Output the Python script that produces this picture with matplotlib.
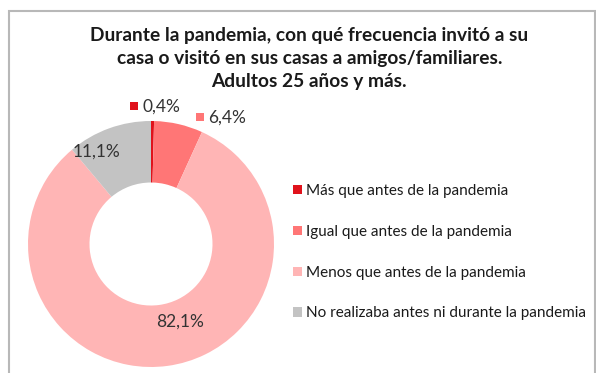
import matplotlib
matplotlib.use("Agg")
import matplotlib.pyplot as plt
from matplotlib.patches import Rectangle, Patch

plt.rcParams['font.family'] = ['Lato', 'DejaVu Sans']

categories = [
    "Más que antes de la pandemia",
    "Igual que antes de la pandemia",
    "Menos que antes de la pandemia",
    "No realizaba antes ni durante la pandemia",
]
values = [0.4, 6.4, 82.1, 11.1]
value_labels = ["0,4%", "6,4%", "82,1%", "11,1%"]
colors = ["#e0121b", "#ff7676", "#ffb5b5", "#c3c3c3"]
title = ("Durante la pandemia, con qué frecuencia invitó a su\n"
         "casa o visitó en sus casas a amigos/familiares.\n"
         "Adultos 25 años y más.")

W, H = 596, 373
fig = plt.figure(figsize=(W / 100, H / 100), dpi=100)
fig.patch.set_facecolor("white")

# chart frame (right and bottom edges fall outside the canvas)
frame = Rectangle((8.5 / W, -0.05), (594.5 - 8.5) / W, (H - 10.5) / H + 0.05,
                  transform=fig.transFigure, fill=False,
                  edgecolor="#b8b8b8", linewidth=1.5)
fig.patches.append(frame)

fig.text(0.519, 1 - 27 / H, title, ha="center", va="top",
         fontsize=13.8, fontweight="bold", color="#1a1a1a", linespacing=1.42)

# donut
cx, cy, r = 151, 244, 123
ax = fig.add_axes([(cx - r) / W, (H - cy - r) / H, 2 * r / W, 2 * r / H])
ax.pie(values, colors=colors, startangle=90, counterclock=False, radius=1,
       wedgeprops=dict(width=0.5, edgecolor="none"))
ax.set_xlim(-1, 1)
ax.set_ylim(-1, 1)
ax.set_aspect("equal")
ax.axis("off")

# data labels (pixel offsets from the donut centre)
label_pos = {
    0: (10 / r, 137 / r),
    1: (76 / r, 126 / r),
    2: (29 / r, -78 / r),
    3: (-54 / r, 92 / r),
}
for i, (x, y) in label_pos.items():
    ax.text(x, y, value_labels[i], ha="center", va="center",
            fontsize=12.5, color="#333333")
# legend keys drawn beside the outside labels
s = 8 / r
for i in (0, 1):
    x, y = label_pos[i]
    ax.add_patch(Rectangle((x - 27 / r - s / 2, y - s / 2 + 1 / r), s, s,
                           facecolor=colors[i], edgecolor="none",
                           clip_on=False))

handles = [Patch(facecolor=c, edgecolor="none") for c in colors]
fig.legend(handles, categories, loc="upper left",
           bbox_to_anchor=(287 / W, 1 - 178 / H), frameon=False,
           fontsize=11, handlelength=0.55, handleheight=0.55,
           handletextpad=0.3, labelspacing=1.75, labelcolor="#1a1a1a",
           borderaxespad=0)

fig.savefig("out.png", dpi=100, facecolor="white")
